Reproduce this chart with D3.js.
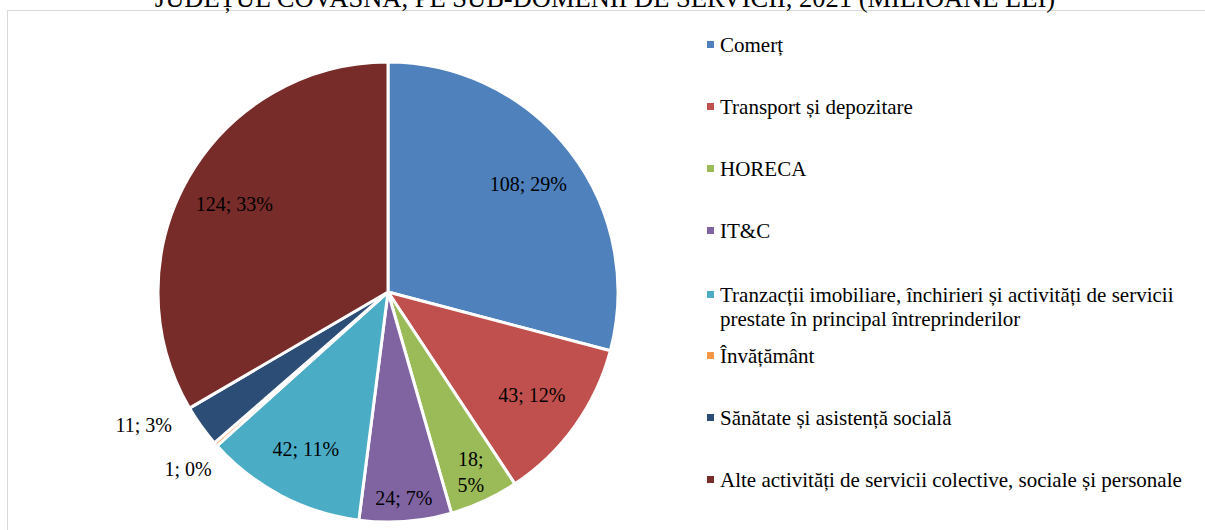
<!DOCTYPE html>
<html>
<head>
<meta charset="utf-8">
<script src="https://cdn.jsdelivr.net/npm/d3@7"></script>
<style>
  html, body { margin: 0; padding: 0; background: #fff; }
  svg { display: block; font-family: "Liberation Serif", "Times New Roman", serif; }
</style>
</head>
<body>
<svg id="chart" width="1205" height="530"></svg>
<script>
// Servicii, județul Covasna, 2021 (milioane lei)
const categories = [
  "Comerț",
  "Transport și depozitare",
  "HORECA",
  "IT&C",
  "Tranzacții imobiliare, închirieri și activități de servicii prestate în principal întreprinderilor",
  "Învățământ",
  "Sănătate și asistență socială",
  "Alte activități de servicii colective, sociale și personale"
];
const values = [108, 43, 18, 24, 42, 1, 11, 124];
const percentLabels = ["29%", "12%", "5%", "7%", "11%", "0%", "3%", "33%"];
const legendLines = [
  ["Comerț"],
  ["Transport și depozitare"],
  ["HORECA"],
  ["IT&C"],
  ["Tranzacții imobiliare, închirieri și activități de servicii", "prestate în principal întreprinderilor"],
  ["Învățământ"],
  ["Sănătate și asistență socială"],
  ["Alte activități de servicii colective, sociale și personale"]
];
const colors = ["#4F81BD", "#C0504D", "#9BBB59", "#8064A2", "#4BACC6", "#F79646", "#2C4D75", "#772C2A"];
const title = "JUDEȚUL COVASNA, PE SUB-DOMENII DE SERVICII, 2021 (MILIOANE LEI)";

const svg = d3.select("#chart");

// chart area frame
svg.append("rect")
  .attr("x", 7.5).attr("y", 10.5)
  .attr("width", 1205).attr("height", 540)
  .attr("fill", "none").attr("stroke", "#d9d9d9").attr("stroke-width", 1);

svg.append("text")
  .attr("x", 605).attr("y", 7)
  .attr("text-anchor", "middle")
  .attr("font-size", 26.5).attr("fill", "#000")
  .text(title);

const cx = 388, cy = 292, R = 230;
const color = d3.scaleOrdinal().domain(categories).range(colors);

const pie = d3.pie().sort(null).value(d => d.value);
const data = categories.map((c, i) => ({ name: c, value: values[i], pct: percentLabels[i] }));
const arcs = pie(data);

const arc = d3.arc().innerRadius(0).outerRadius(R);

const g = svg.append("g").attr("transform", `translate(${cx},${cy})`);

g.selectAll("path.slice")
  .data(arcs)
  .join("path")
  .attr("class", "slice")
  .attr("d", arc)
  .attr("fill", d => color(d.data.name))
  .attr("stroke", "#fff")
  .attr("stroke-width", 3)
  .attr("stroke-linejoin", "round");

// label radius per slice, as a fraction of the pie radius; small slices sit further out
const labelRadius = d => {
  const span = d.endAngle - d.startAngle;
  if (d.value <= 1) return 1.16;
  if (span < 0.25) return 1.2;
  if (span < 0.35) return 0.86;
  if (span < 0.45) return 0.9;
  return 0.77;
};

g.selectAll("text.lbl")
  .data(arcs)
  .join("text")
  .attr("class", "lbl")
  .attr("font-size", 20)
  .attr("fill", "#000")
  .attr("text-anchor", "middle")
  .each(function(d) {
    const k = labelRadius(d) * R;
    const a = (d.startAngle + d.endAngle) / 2;
    let x = Math.sin(a) * k, y = -Math.cos(a) * k;
    if (d.value > 1 && (d.endAngle - d.startAngle) < 0.25) { x -= 20; y -= 28; }
    const t = d3.select(this);
    const txt = `${d.data.value}; ${d.data.pct}`;
    if (d.data.name === "HORECA") {
      t.append("tspan").attr("x", x).attr("y", y - 6).text(`${d.data.value};`);
      t.append("tspan").attr("x", x).attr("y", y + 20).text(d.data.pct);
    } else {
      t.attr("x", x).attr("y", y + 7).text(txt);
    }
  });

// legend
const legendBaselines = [52, 114, 176, 238, 302, 363, 425, 487];
const lg = svg.append("g");
legendLines.forEach((lines, i) => {
  const y = legendBaselines[i];
  lg.append("rect")
    .attr("x", 707).attr("y", y - 11)
    .attr("width", 7).attr("height", 7)
    .attr("fill", colors[i]);
  const t = lg.append("text")
    .attr("font-size", 21).attr("fill", "#000");
  lines.forEach((ln, j) => {
    t.append("tspan").attr("x", 720).attr("y", y + j * 24).text(ln);
  });
});
</script>
</body>
</html>
